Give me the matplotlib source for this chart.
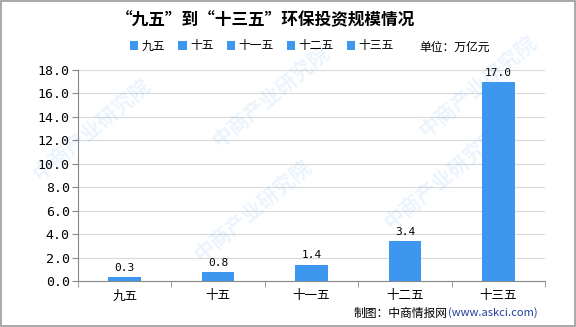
import numpy as np
import matplotlib.pyplot as plt
from matplotlib.patches import Rectangle

plt.rcParams['font.family'] = ['Noto Sans CJK SC', 'DejaVu Sans']

periods = ['九五', '十五', '十一五', '十二五', '十三五']
invest = [0.3, 0.8, 1.4, 3.4, 17.0]
yticks = np.arange(0, 19, 2)
bar_color = '#3d97ee'

fig = plt.figure(figsize=(5.76, 3.27), dpi=100)
ax = fig.add_axes([78/576, 1 - 281/327, 467/576, 211/327])

x = np.arange(len(periods))
for i, (p, v) in enumerate(zip(periods, invest)):
    ax.bar(x[i], v, width=0.35, color=bar_color, label=p, zorder=3)
    ax.text(x[i], v + 0.35, f'{v:.1f}', ha='center', va='bottom',
            fontsize=8, family='DejaVu Sans Mono', zorder=4)

ax.set_xlim(-0.5, len(periods) - 0.5)
ax.set_ylim(0, 18)
ax.set_yticks(yticks)
ax.set_yticklabels([f'{t:.1f}' for t in yticks], family='DejaVu Sans Mono', fontsize=9.5)
ax.set_xticks(x)
ax.set_xticklabels(periods, fontsize=9)
ax.set_xticks(np.arange(-0.5, len(periods)), minor=True)
ax.tick_params(axis='x', which='major', length=0, pad=6)
ax.tick_params(axis='x', which='minor', length=4, color='#888888')
ax.tick_params(axis='y', length=4, color='#888888', pad=2)
ax.grid(axis='y', color='#d9d9d9', lw=0.8, zorder=0)
for s in ['top', 'right']:
    ax.spines[s].set_visible(False)
for s in ['left', 'bottom']:
    ax.spines[s].set_color('#888888')

fig.legend(loc='center', bbox_to_anchor=(262/576, 1 - 46/327), ncol=5,
           frameon=False, fontsize=8.5, handlelength=0.7, handleheight=0.7,
           handletextpad=0.3, columnspacing=1.1)

fig.text(265/576, 1 - 20/327, '“九五”到“十三五”环保投资规模情况',
         ha='center', va='center', fontsize=12, fontweight='bold')
fig.text(490/576, 1 - 47/327, '单位：万亿元', ha='right', va='center', fontsize=8.5)
fig.text(448/576, 1 - 313/327, '制图：中商情报网', ha='right', va='center', fontsize=8.5)
fig.text(448/576, 1 - 313/327, '(www.askci.com)', ha='left', va='center',
         fontsize=8, color='#1f3f9f')

# faint diagonal watermark
for wx, wy in [(0.05, 0.45), (0.33, 0.2), (0.36, 0.55), (0.66, 0.3), (0.72, 0.58)]:
    fig.text(wx, wy, '中商产业研究院', rotation=40, fontsize=15, fontweight='bold',
             color='#3d97ee', alpha=0.1, zorder=0)

fig.patches.append(Rectangle((0.001, 0.002), 0.997, 0.995, transform=fig.transFigure,
                             fill=False, edgecolor='#999999', lw=1.2))

fig.savefig('out.png', dpi=100)
